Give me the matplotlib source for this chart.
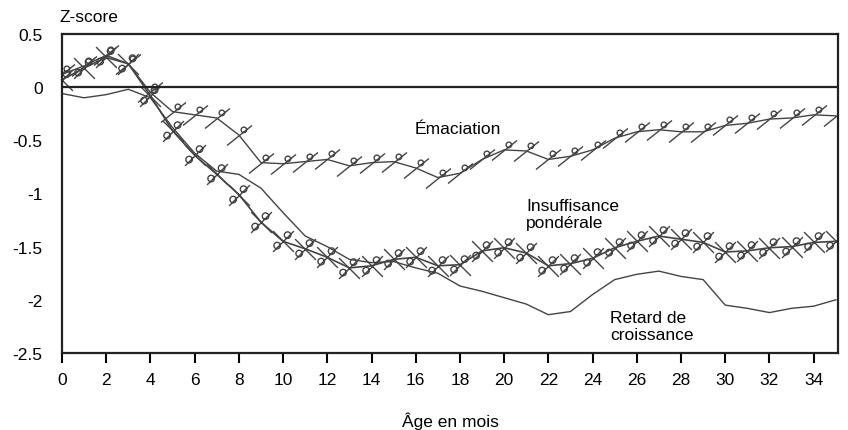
import numpy as np
import matplotlib
matplotlib.use('Agg')
import matplotlib.pyplot as plt
from matplotlib.path import Path

plt.rcParams['font.family'] = ['Liberation Sans', 'DejaVu Sans']

# Données (z-score moyen par mois d'âge)
ages = list(range(0, 36))
emaciation = [0.12, 0.20, 0.30, 0.22, -0.05, -0.23, -0.26, -0.29, -0.45, -0.71,
              -0.72, -0.70, -0.68, -0.74, -0.71, -0.70, -0.76, -0.85, -0.81, -0.68,
              -0.59, -0.60, -0.68, -0.65, -0.59, -0.48, -0.42, -0.40, -0.42, -0.42,
              -0.36, -0.34, -0.30, -0.29, -0.26, -0.27]
insuffisance = [0.07, 0.18, 0.28, 0.22, -0.08, -0.41, -0.64, -0.82, -1.01, -1.27,
                -1.45, -1.52, -1.60, -1.70, -1.68, -1.62, -1.60, -1.68, -1.67, -1.54,
                -1.51, -1.56, -1.68, -1.66, -1.61, -1.51, -1.45, -1.40, -1.43, -1.46,
                -1.55, -1.54, -1.51, -1.50, -1.46, -1.45]
retard = [-0.06, -0.10, -0.07, -0.02, -0.10, -0.38, -0.62, -0.79, -0.82, -0.95,
          -1.18, -1.40, -1.50, -1.62, -1.65, -1.64, -1.70, -1.75, -1.87, -1.92,
          -1.98, -2.04, -2.14, -2.11, -1.95, -1.81, -1.76, -1.73, -1.78, -1.81,
          -2.05, -2.08, -2.12, -2.08, -2.06, -2.00]

# marqueurs "à la main" : trait oblique + petit rond, et croix à boucles
trait = Path([(-1.0, -0.8), (1.0, 0.8)], [Path.MOVETO, Path.LINETO])
rond = Path.circle((0.35, 0.45), 0.22)
m_emac = Path.make_compound_path(trait, rond)

croix = Path([(-0.9, -0.9), (0.9, 0.9), (-0.9, 0.9), (0.9, -0.9)],
             [Path.MOVETO, Path.LINETO, Path.MOVETO, Path.LINETO])
m_insuf = Path.make_compound_path(croix, Path.circle((-0.55, -0.35), 0.28),
                                  Path.circle((0.35, 0.55), 0.28))

fig = plt.figure(figsize=(8.48, 4.31), dpi=100)
ax = fig.add_axes([0.0731, 0.1787, 0.9151, 0.7401])

col = '#444444'
ax.plot(ages, retard, color=col, lw=1.0)
ax.plot(ages, emaciation, color=col, lw=1.0, marker=m_emac, markersize=18,
        markerfacecolor='none', markeredgecolor=col, markeredgewidth=1.0)
ax.plot(ages, insuffisance, color=col, lw=1.2, marker=m_insuf, markersize=15,
        markerfacecolor='none', markeredgecolor=col, markeredgewidth=1.0)

ax.axhline(0, color='#222222', lw=1.6)

ax.set_xlim(0, 35.1)
ax.set_ylim(-2.5, 0.5)
ax.set_xticks(range(0, 36, 2))
ax.set_yticks([0.5, 0, -0.5, -1, -1.5, -2, -2.5])
ax.set_yticklabels(['0.5', '0', '-0.5', '-1', '-1.5', '-2', '-2.5'])
ax.tick_params(axis='x', direction='out', length=7, width=1.5, labelsize=12.5, pad=7)
ax.tick_params(axis='y', length=0, labelsize=12.5, pad=14)
for s in ax.spines.values():
    s.set_linewidth(1.6)
    s.set_color('#222222')

ax.text(17.9, -0.39, 'Émaciation', fontsize=12.5, ha='center', va='center')
ax.text(21.0, -1.19, 'Insuffisance\npondérale', fontsize=12.5, ha='left', va='center',
        linespacing=1.15)
ax.text(24.8, -2.25, 'Retard de\ncroissance', fontsize=12.5, ha='left', va='center',
        linespacing=1.15)

fig.text(60 / 848, 1 - 17 / 431, 'Z-score', fontsize=12.5, ha='left', va='center')
fig.text(450 / 848, 1 - 421 / 431, 'Âge en mois', fontsize=12.5, ha='center', va='center')

fig.savefig('out.png', dpi=100)
